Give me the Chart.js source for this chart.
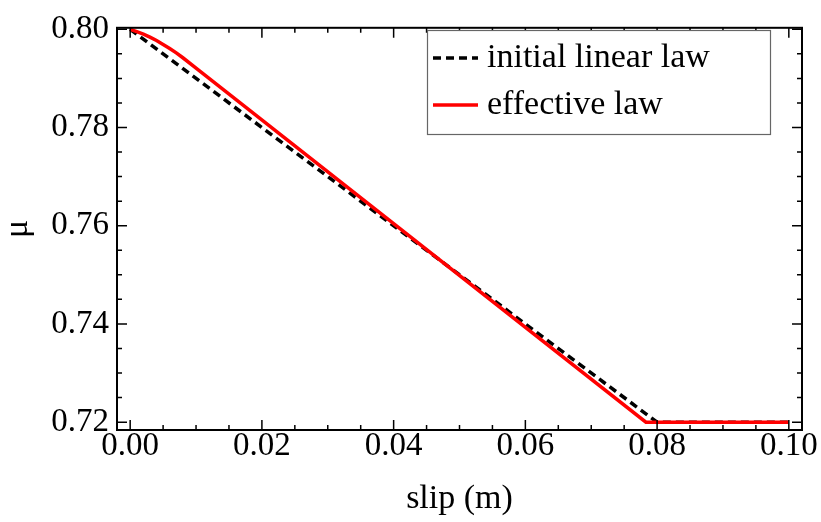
<!DOCTYPE html>
<html>
<head>
<meta charset="utf-8">
<script src="https://cdn.jsdelivr.net/npm/chart.js@4.4.1/dist/chart.umd.min.js"></script>
<style>
  html, body { margin: 0; padding: 0; background: #fff; }
  #wrap { width: 821px; height: 522px; }
</style>
</head>
<body>
<div id="wrap"><canvas id="slipChart" width="821" height="522"></canvas></div>
<script>
// values
const slipInitial = [0, 0.08, 0.10];
const muInitial = [0.80, 0.72, 0.72];

const slipEffective = [0, 0.001, 0.002, 0.003, 0.004, 0.005, 0.006, 0.007, 0.008, 0.010, 0.040, 0.0783, 0.10];
const muEffective = [0.8000, 0.7995, 0.7990, 0.7984, 0.7977, 0.7969, 0.7961, 0.7952, 0.7942, 0.7921, 0.7604, 0.7200, 0.7200];

const xTicks = [0, 0.02, 0.04, 0.06, 0.08, 0.10];
const yTicks = [0.72, 0.74, 0.76, 0.78, 0.80];

const seriesNames = ['initial linear law', 'effective law'];

const FONT = "'Liberation Serif', 'Times New Roman', serif";

const toPoints = (xs, ys) => xs.map((x, i) => ({ x: x, y: ys[i] }));

// 3 minor ticks between each pair of majors
const minorsOf = (majors) => {
  const out = [];
  for (let i = 0; i < majors.length - 1; i++) {
    const step = (majors[i + 1] - majors[i]) / 4;
    for (let k = 1; k < 4; k++) out.push(majors[i] + k * step);
  }
  return out;
};

// Mathematica style frame, ticks pointing inward on all four sides
const framePlugin = {
  id: 'frame',
  afterDatasetsDraw(chart) {
    const { ctx, chartArea: a, scales } = chart;
    ctx.save();
    ctx.strokeStyle = '#000';
    ctx.lineWidth = 2;
    ctx.strokeRect(a.left, a.top, a.right - a.left, a.bottom - a.top);
    ctx.lineWidth = 1.5;
    const tick = (v, len, horiz) => {
      ctx.beginPath();
      if (horiz) {
        const px = scales.x.getPixelForValue(v);
        ctx.moveTo(px, a.bottom); ctx.lineTo(px, a.bottom - len);
        ctx.moveTo(px, a.top); ctx.lineTo(px, a.top + len);
      } else {
        const py = scales.y.getPixelForValue(v);
        ctx.moveTo(a.left, py); ctx.lineTo(a.left + len, py);
        ctx.moveTo(a.right, py); ctx.lineTo(a.right - len, py);
      }
      ctx.stroke();
    };
    xTicks.forEach(v => tick(v, 10, true));
    minorsOf(xTicks).forEach(v => tick(v, 5, true));
    yTicks.forEach(v => tick(v, 10, false));
    minorsOf(yTicks).forEach(v => tick(v, 5, false));
    ctx.restore();
  }
};

// boxed legend in the top right corner of the plot
const legendBox = {
  id: 'legendBox',
  afterDraw(chart) {
    const ctx = chart.ctx;
    const box = { x: 427, y: 30, w: 343, h: 104 };
    ctx.save();
    ctx.fillStyle = '#fff';
    ctx.fillRect(box.x, box.y, box.w, box.h);
    ctx.strokeStyle = '#666';
    ctx.lineWidth = 1.2;
    ctx.strokeRect(box.x + 0.5, box.y + 0.5, box.w, box.h);
    const rows = [58, 105];
    chart.data.datasets.forEach((ds, i) => {
      const y = rows[i];
      ctx.beginPath();
      ctx.strokeStyle = ds.borderColor;
      ctx.lineWidth = ds.borderWidth;
      ctx.setLineDash(ds.borderDash || []);
      ctx.moveTo(433, y);
      ctx.lineTo(478, y);
      ctx.stroke();
      ctx.setLineDash([]);
      ctx.fillStyle = '#000';
      ctx.font = '34px ' + FONT;
      ctx.textBaseline = 'alphabetic';
      ctx.textAlign = 'left';
      ctx.fillText(ds.label, 487, y + 9);
    });
    ctx.restore();
  }
};

new Chart(document.getElementById('slipChart'), {
  type: 'line',
  data: {
    datasets: [
      {
        label: seriesNames[0],
        data: toPoints(slipInitial, muInitial),
        borderColor: '#000',
        borderWidth: 3.5,
        borderDash: [8, 5],
        pointRadius: 0,
        tension: 0,
        clip: false,
        order: 2
      },
      {
        label: seriesNames[1],
        data: toPoints(slipEffective, muEffective),
        borderColor: '#ff0000',
        borderWidth: 3.5,
        pointRadius: 0,
        tension: 0,
        clip: false,
        order: 1
      }
    ]
  },
  options: {
    responsive: false,
    animation: false,
    devicePixelRatio: 1,
    layout: { padding: { top: 15, right: 19, bottom: 0, left: 0 } },
    plugins: { legend: { display: false }, tooltip: { enabled: false } },
    scales: {
      x: {
        type: 'linear',
        min: -0.002,
        max: 0.102,
        afterBuildTicks: s => { s.ticks = xTicks.map(v => ({ value: v })); },
        afterFit: s => { s.height = 92; },
        grid: { display: false, drawTicks: false },
        border: { display: false },
        ticks: {
          callback: v => Number(v).toFixed(2),
          font: { family: FONT, size: 33 },
          color: '#000',
          padding: -3,
          maxRotation: 0,
          autoSkip: false
        },
        title: {
          display: true,
          text: 'slip (m)',
          font: { family: FONT, size: 34 },
          color: '#000',
          padding: { top: 0, bottom: 3 }
        }
      },
      y: {
        type: 'linear',
        min: 0.7184,
        max: 0.8003,
        afterBuildTicks: s => { s.ticks = yTicks.map(v => ({ value: v })); },
        afterFit: s => { s.width = 117; },
        grid: { display: false, drawTicks: false },
        border: { display: false },
        ticks: {
          callback: v => Number(v).toFixed(2),
          font: { family: FONT, size: 33 },
          color: '#000',
          padding: 8,
          autoSkip: false
        },
        title: {
          display: true,
          text: 'μ',
          font: { family: FONT, size: 34, lineHeight: 1 },
          color: '#000',
          padding: { top: 1, bottom: 0 }
        }
      }
    }
  },
  plugins: [framePlugin, legendBox]
});
</script>
</body>
</html>
